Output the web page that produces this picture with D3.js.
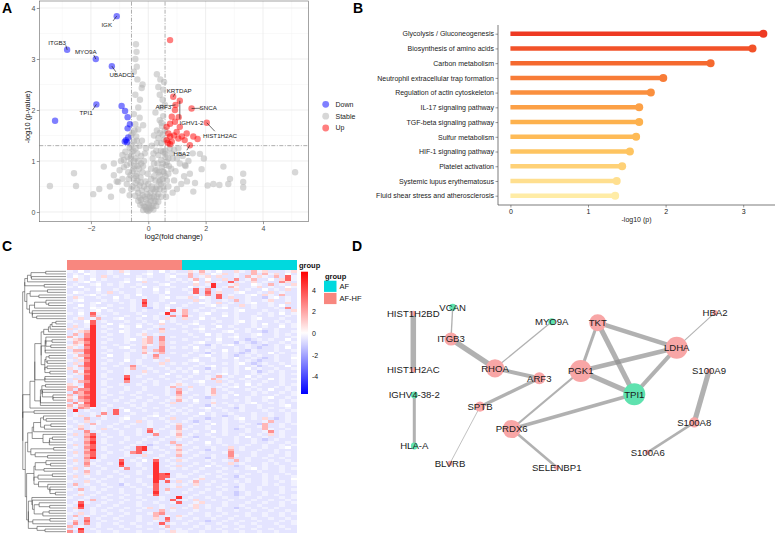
<!DOCTYPE html>
<html><head><meta charset="utf-8">
<script src="https://cdn.jsdelivr.net/npm/d3@7"></script>
<style>body{margin:0;background:#fff}svg{display:block}</style>
</head><body><svg id="c" width="777" height="537"></svg>
<script>
// ---------------- DATA ----------------
// Panel A: volcano points [log2FC, -log10 p]
const stablePts = [
[0,0.02],[0.05,0.05],[-0.05,0.04],[0.1,0.08],[-0.1,0.1],[0.15,0.12],[-0.15,0.11],[0.02,0.15],[-0.02,0.18],[0.2,0.18],[-0.2,0.17],[0.08,0.22],[-0.08,0.25],[0.25,0.22],[-0.25,0.24],[0.12,0.28],[-0.12,0.3],[0.3,0.3],[-0.3,0.28],[0.04,0.09],[-0.07,0.06],[0.18,0.05],[-0.18,0.04],[0.28,0.12],[-0.28,0.14],
[0.35,0.35],[-0.35,0.38],[0.22,0.4],[-0.22,0.42],[0.4,0.45],[-0.4,0.46],[0.3,0.5],[-0.3,0.52],[0.45,0.55],[-0.45,0.57],[0.15,0.45],[-0.15,0.5],[0.38,0.6],[-0.38,0.62],[0.5,0.65],[-0.5,0.66],[0.25,0.62],[-0.27,0.68],[0.55,0.42],[-0.6,0.45],[0.7,0.5],[-0.75,0.55],[0.85,0.38],[-0.9,0.42],[0.62,0.3],[-0.65,0.33],[1.0,0.45],[-1.1,0.6],[0.9,0.62],[0.08,0.38],[-0.05,0.45],
[0.4,0.72],[-0.4,0.75],[0.55,0.78],[-0.55,0.8],[0.3,0.82],[-0.32,0.85],[0.48,0.88],[-0.48,0.9],[0.62,0.92],[-0.62,0.95],[0.7,0.75],[-0.7,0.78],[0.8,0.85],[-0.85,0.88],[0.95,0.8],[-1.0,0.82],[1.1,0.95],[-1.2,0.72],[0.2,0.95],[-0.2,0.78],[1.25,0.7],[-0.95,1.0],[1.3,0.9],
[0.45,1.02],[-0.45,1.05],[0.6,1.08],[-0.6,1.1],[0.35,1.12],[-0.38,1.15],[0.52,1.18],[-0.52,1.2],[0.7,1.05],[-0.72,1.08],[0.8,1.15],[-0.8,1.18],[0.9,1.22],[-0.9,1.12],[1.0,1.05],[1.05,1.25],[0.75,1.25],[-0.65,1.26],[0.28,1.2],[-0.25,1.1],[1.2,1.1],[1.4,1.0],[1.55,1.15],[0.65,0.98],
[0.45,1.35],[-0.5,1.38],[0.35,1.45],[-0.42,1.48],[0.5,1.52],[-0.55,1.55],[0.3,1.6],[-0.35,1.62],[0.48,1.68],[-0.45,1.72],[0.4,1.8],[-0.3,1.85],[0.52,1.88],[-0.5,1.92],[0.2,1.5],[-0.18,1.7],[0.25,1.95],[-0.22,1.4],[0.55,1.42],[-0.58,1.32],
[0.45,2.05],[-0.35,2.05],[0.5,2.2],[-0.29,2.2],[0.4,2.3],[-0.45,2.3],[-0.23,2.43],[0.35,2.45],[0.55,2.55],[-0.38,2.6],[-0.5,2.75],[-0.4,2.85],[-0.45,3.0],[-0.41,3.14],[-0.43,3.29],[0.3,2.7],[-0.2,2.5],
[0.05,0.3],[-0.03,0.35],[0.12,0.5],[-0.1,0.6],[0.2,0.7],[-0.18,0.9],[0.1,0.85],[0.0,0.55],[0.32,0.95],[-0.35,1.0],[0.15,1.05],[-0.12,1.15],[0.42,0.62],[-0.42,0.7],[0.5,0.95],[-0.5,1.0],[0.58,1.15],[-0.58,1.18],[0.6,0.7],[-0.62,0.72],[0.52,0.5],[-0.55,0.5],[0.35,0.2],[-0.35,0.22],[0.45,0.3],[-0.45,0.32],[0.2,0.3],[-0.2,0.33],[0.28,0.45],[-0.26,0.58],[0.36,0.78],[-0.38,0.9],[0.44,1.2],[-0.44,1.25],[0.3,1.35],[-0.3,1.3],[0.4,1.55],[-0.48,1.6],[0.58,1.6],[-0.6,1.5],[0.46,1.75],[-0.4,1.4],[0.12,1.3],[-0.08,1.25],[0.65,0.62],[-0.68,0.65],[0.72,0.9],[-0.75,0.92],[0.85,1.05],[-0.85,1.02],[0.6,1.2],[-0.62,1.05],[0.1,0.65],[-0.02,0.75],[0.25,0.82],[-0.25,0.95],[0.18,1.15],[-0.15,1.0],[0.5,0.8],[-0.52,0.85],[0.58,2.1],[0.52,2.4],[0.42,2.6],
[5.12,0.78],[3.31,0.75],[3.31,0.59],[3.31,0.48],[2.85,0.65],[2.79,0.55],[2.62,0.89],[2.48,0.53],[2.27,0.55],[2.07,0.52],[1.63,0.57],[1.57,0.40],[1.86,0.84],[1.80,1.14],[1.94,1.05],[1.28,0.92],[1.45,0.75],[1.15,0.55],[1.35,0.6],
[-3.43,0.51],[-2.59,0.76],[-2.52,0.51],[-1.92,0.35],[-1.55,0.89],[-1.71,0.45],[-1.34,0.50],[-1.05,0.59],[-1.2,0.95],[-0.9,0.65],[-1.3,0.3]
];
const downPts = [[-1.10,3.84],[-2.83,3.18],[-1.83,3.0],[-1.27,2.86],[-1.81,2.11],[-3.25,1.79],[-0.93,2.08],[-0.81,1.98],[-0.72,1.86],[-0.64,1.72],[-0.72,1.64],[-0.70,1.46],[-0.78,1.41],[-0.74,1.37],[-0.82,1.38]];
const upPts = [[0.76,3.37],[0.87,2.26],[0.95,2.10],[1.10,2.18],[1.51,2.03],[2.04,1.75],[1.45,1.31],[0.93,2.0],[0.82,1.87],[1.06,1.86],[0.64,1.67],[0.76,1.73],[0.70,1.54],[0.76,1.48],[0.64,1.41],[0.76,1.33],[0.82,1.38],[0.99,1.57],[1.10,1.67],[0.93,1.77],[1.17,1.48],[1.05,1.44],[1.34,1.54],[1.27,1.41],[1.57,1.48],[1.72,1.43],[0.68,1.36],[0.9,1.5]];
const labeledGenes = [
 {gene:"IGK", x:-1.10, y:3.84}, {gene:"ITGB3", x:-2.83, y:3.18}, {gene:"MYO9A", x:-1.83, y:3.0},
 {gene:"UBADC1", x:-1.27, y:2.86}, {gene:"TPI1", x:-1.81, y:2.11}, {gene:"KRTDAP", x:0.87, y:2.26},
 {gene:"ARF3", x:0.95, y:2.10}, {gene:"IGHV1-2", x:1.10, y:2.18}, {gene:"SNCA", x:1.51, y:2.03},
 {gene:"HIST1H2AC", x:2.04, y:1.75}, {gene:"HBA2", x:1.45, y:1.31}
];
const volcanoLegend = ["Down","Stable","Up"];
const xTicksA = [-2,0,2,4];
const yTicksA = [0,1,2,3,4];
const fcCut = 0.585, pCut = 1.301;

// Panel B: KEGG enrichment
const pathways = ["Glycolysis / Gluconeogenesis","Biosynthesis of amino acids","Carbon metabolism","Neutrophil extracellular trap formation","Regulation of actin cytoskeleton","IL-17 signaling pathway","TGF-beta signaling pathway","Sulfur metabolism","HIF-1 signaling pathway","Platelet activation","Systemic lupus erythematosus","Fluid shear stress and atherosclerosis"];
const pathwayScore = [3.26,3.12,2.58,1.97,1.81,1.66,1.66,1.62,1.54,1.44,1.37,1.35];
const xTicksB = [0,1,2,3];

// Panel C: heatmap (rows = proteins, 20 AF-HF samples | 20 AF samples), coded levels
const levelCode = {'=':-2,'-':-1.1,'.':-0.6,'_':-0.3,'0':0,'1':0.8,'2':1.6,'3':2.5,'4':3.5,'5':4.6};
const sampleGroup = [...Array(20).fill("AF-HF"), ...Array(20).fill("AF")];
const heatRows = [
"_.0._ .._.1 _..._ .0._.|.1_2_ .0..1 _.2_1 ..._1",
"._.0_ .._.. 0.._0 .._._|_2.1. 0_1._ ..2.2 _1.0.",
".0_._ .1._. .._._ .._0.|.2._1 .1.._ .2_1_ .2.4_",
"_1_.0 ._... _.0_. .._._|._2.0 ..1.3 ._2.. 0.14_",
".._0. _..._ 0..1. _.._.|_.0.1 ._.4. _.1._ ..31.",
"._.._ 0._._ .._.. ._0..|..1._ 5.._1 ..0_. 2._.1",
"_.0.. _..._ ._.0. _.._.|.0._. 5._2_ .._1. _..0_",
"..._. 0.._. .._.. 0._..|_.4.3 ._..1 ._..0 ._.1.",
".0_.. _.1._ .._.. _.0..|._4.4 .1.._ 0.._. 1._..",
"_.._0 ._... _.0.. ._...|.._.3 .4._. ._0.1 _.2..",
".1_.. _..0. _.._. ._0._|_1.0_ .4.1. ._..- _0._.",
"._0.. ._._. ._.4. ._...|..1._ .._.2 ._.._ 1.._.",
"_..._ 0..._ ._.5. _..0.|._.0_ .1._. ._0.. _..1.",
"..0._ .._.. ._.4. _._..|_..._ 0._.. 1._.. _.0..",
"._..0 _0.._ ._..- _.0._|..._. ._0._ .._.. ._.3.",
".._._ 0._.. ._._. .._4_|2._.. _..._ 0..._ .._.1",
"_.0.4 _.._. .._.. ._5._|2.._0 .._._ ..._. _.0._",
".._.3 ._... _..0. _..3.|3_._. ..0._ .._.. _.._.",
"._1._ 2.._0 .._.. _.1_.|1..0. _..._ .._0. .._..",
"_..04 ._... _.._. .0._.|.._.. ._.._ 0._.. ._._.",
"._._4 ..0._ .._._ .1.._|._0.. _..._ .._.0 .._._",
".1._5 ._..0 _.0.. _....|_.._. .0._. .._._ ..0._",
"1._.5 .._.. _..._ .2._.|.._0. _..._ ._.0. ._...",
"._125 ._..0 _.._. .1...|_.._. .._0. ._..- ._.._",
".2.35 .._.. _._1. _....|._..0 ._.._ .._0. ._._.",
"2_.35 ._... _.._2 .3._.|.._.. ._._0 .._.. ._.._",
"_1245 .._.. _0.12 .3...|_..._ .0.._ .-._. _..0.",
".2135 ._... _..12 .2._.|.._0. ._..- _.-._ .._._",
"_1_45 ..._. ._.1_ .2...|._..- _._0. ._..- ._._.",
"1_.35 ._.._ 0..2. .3._.|_.0.. _..._ ._.-. ._.0.",
".2245 .._.. ._.1. 23...|.._._ ..0._ .-_.. ._.._",
"_1.45 ._... _..2_ .2._.|._..- _._.. -._.. 0._..",
"._235 ..0.. _.._. 3....|_.._0 .._.- ._._. ._.._",
".1_45 ._... _.._. 2._..|.._.. _._.0 .._.- ._..0",
"_.135 .._.. 0._.. _.1..|._0.. _..._ ._.-. ._.._",
".1.45 ._.._ .._.. .1._.|_.._. .._._ 0.-._ .._._",
"._245 ..._. .3._. ._...|.._._ 0..._ .._-. _..0.",
"1_.35 ._... _2.._ .._._|._..- _._._ .0._. ._.._",
".2_45 .._.. _..1. _.._.|_.0._ .._._ .._-. _._..",
"._135 ._... _.._. ..0..|.._.. ._0._ .._._ .._._",
"_..45 ._... 4._.. ._.._|._.._ .2._. .0._. .._..",
".1.45 .._.. 5..._ .._..|_..._ 2._.. _._.. 0._._",
"._235 ._... 3.._. _..._|.._0. .1._. ._.._ .._..",
"1_.45 ._.._ .._.. _.._1|_.._. .._._ .0._. .._._",
"22_45 .._.. _.._. .._2.|.1.._ ._._0 .._.. ._._.",
"2.335 ._... _.._. .._.2|._.._ 2._.. ._._. 0.._.",
".3245 ._.._ .._.. .._.3|_..._ 2.._. .._._ .._._",
"2.235 .._.. ._.._ .._.2|.._._ 1._.0 .._.. ._.._",
"1_345 ._.._ .._.. _.._1|._..- .._.. ._.._ 0.._.",
"2.235 ..._. ._.._ .._.2|_.0.. _..._ ._.._ .._._",
".3_45 ._... _.._. ._.1.|.._.. 1._.. ._0.. _._..",
"2_235 .._.. ._._. .._..|._..- _.._. _.._. .._0.",
"1.32_ ._.._ .._.. _.._.|_.._0 ._..- _.._. _.._.",
".5._. ._.4. 0.._. .._._|._.._ .._.. _..._ .._._",
"._.._ .3.4. ._... _.._.|_..0. _.._. .._.. _.._.",
"._1._ 2_... _..._ 0._..|.._.. _.-._ .._.. _.._.",
"_..2. ._.._ 0.._. ._.1.|._..- .._._ 0._.1 .-._.",
"._.1. _..._ ..1._ .._..|_.-._ .._.. _..._ 2.._.",
".._.2 _.._. ._.._ ..._1|.._.. 0._.. ._.-2 .._._",
"_.1._ .._.. _..._ .._.2|._.._ .._.. _.._2 .._..",
"._2._ .1._. .._.3 ._..2|_..._ .._.- ._..2 _.._.",
"_..3. _..._ .._.4 _.._1|.._.. 0._.. ._.._ 3._..",
".1.24 ._.._ .._.. 3.._2|._.._ .._.. _.._. 1._..",
"_..35 .._.. _..._ .._.1|_.-.. _..._ .0.._ .._._",
"._.24 ._... _.._. ._.._|.._.. ._.._ .._.- ._...",
"_..35 ._.._ .._.. _..2.|._..0 ._.._ .._.. _.._.",
".1.24 .._.. ._..- .._.2|_..._ .._.. ._.._ .._._",
"._.34 ._... _.45. _.._1|.._.. _..1. _..._ .._0.",
"_..25 ._.._ ..45. ._..2|._..- _..2. _.._. ._...",
".1.34 .._.. _34._ .._.1|_.._. .._3. .._.. ._._.",
"._.24 ._... _..1. ._..2|.._.. _..3_ .._.. _.._.",
"_..35 ._.._ .._.. _.._.|._..- _..2. ._.._ .._..",
".1.2. _...4 ._.0. 4._.1|_..._ .._.2 ._... _.._.",
"._.3_ .._.5 .._.. 5.._.|.._.. _..1. _..._ ._.._",
"_..2. _...4 .._.. 5._.1|._..0 ._..- ._.._ .._..",
".1._. ._.._ 3.._. 5.._.|_.._. .._.. ._0._ .._._",
"._.2. _.._. .._.. 5....|.._.. ._.._ ..._. .._..",
"_..1. _..._ .._.. 545._|._.._ .._.. ._.._ ..._.",
".1._. .._.. _..._ 544._|_.._. ._..- _..._ ._.._",
"._.._ ._.._ .._.. 54._.|.._1. .._.. ._.._ ._..0",
"_..1. _..._ .._.. 5.4.1|._2.. _..._ ._.._ .._._",
".2._. ._..- _.._. 4.._.|_.1._ .._.. _..._ ._.._",
"._.._ .._.. ._.._ 4.._1|.._.. ._..- _.._. .._..",
"_.2._ ._.._ .._.. 4.2..|._.._ .._.. _.._. .._._",
".._.. _..._ .._.. 5._..|_.._. ._..- ._.._ .._..",
"._1._ .._.. _..._ 4....|.._.. ._..- ._.._ ._.._",
"_.._. ._.._ .._.. ._..5|._.._ .._.. _.._. .._._",
".._.2 .._.. _.._. ._.4.|_.1.. _.._. .._.. _.._.",
"._4_. ._.._ .._.. _.._4|.._1. .._.. ._.._ .._._",
"_.5.. _.._. .._.. ._...|._1._ .._.. _.._. .._..",
".14._ .._.. _.._1 ._.1.|_.1._ ._..- ._.._ ._...",
"._.._ ._.._ .._.. .2._.|.._.. ._.._ .._.. _.._.",
"_.1._ .._.. _..._ 23...|._.._ .._.. ._.._ .._._",
".2._. ._.._ .._.. 2._.1|_..._ ._.._ ._.._ .._..",
"._.3. _.._. .._.. 1.4._|.._.. _.._. .._.. _.._.",
"_2.4. ._.._ .._.. _.3..|._..- .._.. _.._. .._._",
".3.3. _.._. ._.._ .4._.|_.._. ._.._ .._.. ._.._",
"2._.. _..._ .._.. ._2..|.._._ .._.. _.._. .._..",
"._5._ .._.. _..._ .._._|._.._ ._.._ .._.. _.._.",
"3.4.. _.._. .._.. ._.1_|_.._. .._.. _.._. ._..."
];
const colorbarTicks = [4,2,0,-2,-4];
const groupNames = ["AF","AF-HF"];

// Panel D: PPI network
const ppiNodes = [
 {id:"HIST1H2BD",reg:"up",deg:1},{id:"HIST1H2AC",reg:"up",deg:1},{id:"IGHV4-38-2",reg:"down",deg:1.4},
 {id:"HLA-A",reg:"down",deg:1.4},{id:"VCAN",reg:"down",deg:1.4},{id:"ITGB3",reg:"up",deg:2.9},
 {id:"MYO9A",reg:"down",deg:1.4},{id:"RHOA",reg:"up",deg:4.1},{id:"ARF3",reg:"up",deg:2.6},
 {id:"SPTB",reg:"up",deg:2.2},{id:"PRDX6",reg:"up",deg:4.1},{id:"BLVRB",reg:"up",deg:1},
 {id:"SELENBP1",reg:"up",deg:1},{id:"TKT",reg:"up",deg:3.8},{id:"LDHA",reg:"up",deg:5},
 {id:"PGK1",reg:"up",deg:5},{id:"TPI1",reg:"down",deg:5},{id:"HBA2",reg:"up",deg:1},
 {id:"S100A9",reg:"up",deg:1},{id:"S100A8",reg:"up",deg:2.2},{id:"S100A6",reg:"up",deg:1}
];
const ppiEdges = [
 ["HIST1H2BD","HIST1H2AC",0.99],["IGHV4-38-2","HLA-A",0.68],["VCAN","ITGB3",0.47],["ITGB3","RHOA",0.96],
 ["RHOA","MYO9A",0.45],["RHOA","ARF3",0.8],["ARF3","SPTB",0.72],["SPTB","BLVRB",0.4],
 ["PGK1","PRDX6",0.58],["PRDX6","TPI1",0.745],["PRDX6","SELENBP1",0.62],["PGK1","TKT",0.68],
 ["PGK1","LDHA",0.87],["PGK1","TPI1",0.94],["TKT","LDHA",0.87],["TKT","TPI1",0.94],
 ["LDHA","TPI1",0.8],["LDHA","HBA2",0.43],["S100A9","S100A8",0.94],["S100A8","S100A6",0.62]
];
// network layout (pixel positions from the layout engine)
const ppiLayout = {
 "HIST1H2BD":[413.3,313.3],"HIST1H2AC":[413.3,370],"IGHV4-38-2":[414.3,395],"HLA-A":[414.3,446],
 "VCAN":[452.7,307.3],"ITGB3":[451,339],"MYO9A":[551.7,321.7],"RHOA":[495,368.3],"ARF3":[539.3,378.3],
 "SPTB":[480,406.7],"PRDX6":[511.7,429],"BLVRB":[450,463.3],"SELENBP1":[556.7,467.3],"TKT":[597.7,322.7],
 "LDHA":[676.7,347.7],"PGK1":[580.7,371],"TPI1":[634.3,394.3],"HBA2":[715,312.7],"S100A9":[709,371],
 "S100A8":[694.3,422.3],"S100A6":[647.7,452.3]
};

// ---------------- DRAW ----------------
const FONT = '"Liberation Sans", Arial, Helvetica, sans-serif';
const svg = d3.select("#c").attr("font-family", FONT);
svg.append("rect").attr("width",777).attr("height",537).attr("fill","#fff");
const fmtInt = d3.format("d");

// ===== Panel A =====
(function(){
 const g = svg.append("g");
 const x = d3.scaleLinear().domain([-3.8,5.58]).range([39.3,308.3]);
 const y = d3.scaleLinear().domain([-0.19,4.137]).range([221.7,1]);
 const [x0,x1] = x.range(), [y0,y1] = y.range();
 const minorX=[-3,-1,1,3,5], minorY=[0.5,1.5,2.5,3.5];
 g.selectAll(".mx").data(minorX).join("line").attr("x1",d=>x(d)).attr("x2",d=>x(d)).attr("y1",y0).attr("y2",y1).attr("stroke","#f2f2f2").attr("stroke-width",0.5);
 g.selectAll(".my").data(minorY).join("line").attr("y1",d=>y(d)).attr("y2",d=>y(d)).attr("x1",x0).attr("x2",x1).attr("stroke","#f2f2f2").attr("stroke-width",0.5);
 g.selectAll(".gx").data(xTicksA).join("line").attr("x1",d=>x(d)).attr("x2",d=>x(d)).attr("y1",y0).attr("y2",y1).attr("stroke","#e6e6e6").attr("stroke-width",0.7);
 g.selectAll(".gy").data(yTicksA).join("line").attr("y1",d=>y(d)).attr("y2",d=>y(d)).attr("x1",x0).attr("x2",x1).attr("stroke","#e6e6e6").attr("stroke-width",0.7);
 const dash="4,1.5,1,1.5";
 [-fcCut,fcCut].forEach(v=>g.append("line").attr("x1",x(v)).attr("x2",x(v)).attr("y1",y0).attr("y2",y1).attr("stroke","#999").attr("stroke-width",0.8).attr("stroke-dasharray",dash));
 g.append("line").attr("x1",x0).attr("x2",x1).attr("y1",y(pCut)).attr("y2",y(pCut)).attr("stroke","#999").attr("stroke-width",0.8).attr("stroke-dasharray",dash);
 const r=3.2;
 g.append("g").selectAll("circle").data(stablePts).join("circle").attr("cx",d=>x(d[0])).attr("cy",d=>y(d[1])).attr("r",r).attr("fill","#b0b0b0").attr("fill-opacity",0.5);
 g.append("g").selectAll("circle").data(downPts).join("circle").attr("cx",d=>x(d[0])).attr("cy",d=>y(d[1])).attr("r",r).attr("fill","#0000ff").attr("fill-opacity",0.5);
 g.append("g").selectAll("circle").data(upPts).join("circle").attr("cx",d=>x(d[0])).attr("cy",d=>y(d[1])).attr("r",r).attr("fill","#ff0000").attr("fill-opacity",0.5);
 const repel = {
  "IGK":[-10,8.6,-3.7,4.8],"ITGB3":[-10,-7.3,-1.3,-4.5],"MYO9A":[-10,-7.3,-2,-4],
  "UBADC1":[10.3,8.7,4,5.7],"TPI1":[-10.3,8.4,-3.8,5.7],"KRTDAP":[6,-6,2,-3.5],
  "ARF3":[-12.2,2.5,-5,0.8],"IGHV1-2":[11.7,21.7,0,18],"SNCA":[16.6,-0.2,9,-0.2],
  "HIST1H2AC":[13.3,13.3,8,8.5],"HBA2":[-8.3,8.7,-3,5]};
 labeledGenes.forEach(d=>{
  const o=repel[d.gene], px=x(d.x), py=y(d.y);
  g.append("line").attr("x1",px).attr("y1",py).attr("x2",px+o[2]).attr("y2",py+o[3]).attr("stroke","#111").attr("stroke-width",0.6);
  g.append("text").attr("x",px+o[0]).attr("y",py+o[1]+2.1).attr("text-anchor","middle").attr("font-size",6.2).attr("fill","#222").text(d.gene);
 });
 g.append("rect").attr("x",x0).attr("y",y1).attr("width",x1-x0).attr("height",y0-y1).attr("fill","none").attr("stroke","#666").attr("stroke-width",0.6);
 const ax = g.append("g").attr("transform",`translate(0,${y0})`).call(d3.axisBottom(x).tickValues(xTicksA).tickFormat(fmtInt).tickSize(2.5).tickPadding(1.5));
 const ay = g.append("g").attr("transform",`translate(${x0},0)`).call(d3.axisLeft(y).tickValues(yTicksA).tickFormat(fmtInt).tickSize(2.5).tickPadding(1.5));
 [ax,ay].forEach(a=>{a.select(".domain").remove();a.selectAll("line").attr("stroke","#333").attr("stroke-width",0.5);a.selectAll("text").attr("font-size",7).attr("fill","#4d4d4d").attr("font-family",FONT);});
 g.append("text").attr("x",(x0+x1)/2).attr("y",239).attr("text-anchor","middle").attr("font-size",7.5).attr("fill","#111").text("log2(fold change)");
 g.append("text").attr("transform","translate(29.5,117) rotate(-90)").attr("text-anchor","middle").attr("font-size",7.5).attr("fill","#111").text("-log10 (p-value)");
 const legCol = {"Down":"#0000ff","Stable":"#b0b0b0","Up":"#ff0000"};
 const ly = d3.scalePoint().domain(volcanoLegend).range([104.3,128]);
 volcanoLegend.forEach(k=>{
  g.append("circle").attr("cx",325.7).attr("cy",ly(k)).attr("r",3.4).attr("fill",legCol[k]).attr("fill-opacity",0.5);
  g.append("text").attr("x",335.5).attr("y",ly(k)+2.4).attr("font-size",7).attr("fill","#222").text(k);
 });
})();

// ===== Panel B =====
(function(){
 const g = svg.append("g");
 const x = d3.scaleLinear().domain([-0.16,3.41]).range([498,775]);
 const y = d3.scalePoint().domain(pathways).range([33.7,195.7]);
 const col = d3.scaleLinear().domain([0,2,4,6,8,11]).range(["#ee3a23","#f5692f","#fa8f3e","#fdb14d","#fec460","#ffeca6"]);
 g.selectAll("line.seg").data(pathways).join("line").attr("x1",x(0)).attr("x2",(d,i)=>x(pathwayScore[i])).attr("y1",d=>y(d)).attr("y2",d=>y(d)).attr("stroke",(d,i)=>col(i)).attr("stroke-width",4.5);
 g.selectAll("circle").data(pathways).join("circle").attr("cx",(d,i)=>x(pathwayScore[i])).attr("cy",d=>y(d)).attr("r",4).attr("fill",(d,i)=>col(i));
 const ay = g.append("g").attr("transform","translate(498,0)").call(d3.axisLeft(y).tickSize(2.5).tickPadding(1.5));
 const ax = g.append("g").attr("transform","translate(0,205)").call(d3.axisBottom(x).tickValues(xTicksB).tickFormat(fmtInt).tickSize(2.5).tickPadding(1.5));
 [ax,ay].forEach(a=>{a.select(".domain").remove();a.selectAll("line").attr("stroke","#333").attr("stroke-width",0.5);a.selectAll("text").attr("font-size",7).attr("fill","#222").attr("font-family",FONT);});
 g.append("line").attr("x1",498).attr("x2",498).attr("y1",25).attr("y2",205).attr("stroke","#444").attr("stroke-width",0.7);
 g.append("line").attr("x1",498).attr("x2",775).attr("y1",205).attr("y2",205).attr("stroke","#444").attr("stroke-width",0.7);
 g.append("text").attr("x",636.5).attr("y",221.5).attr("text-anchor","middle").attr("font-size",7).attr("fill","#222").text("-log10 (p)");
})();

// ===== Panel C =====
(function(){
 const g = svg.append("g");
 const mat = heatRows.map(s=>s.split("|").map(p=>p.replace(/\s/g,"").padEnd(20,".").slice(0,20)).join("").split("").map(c=>levelCode[c]));
 const nR = mat.length, nC = sampleGroup.length;
 const x = d3.scaleBand().domain(d3.range(nC)).range([67,296.7]);
 const y = d3.scaleBand().domain(d3.range(nR)).range([270,533]);
 const color = d3.scaleLinear().domain([-5.6,0,5.7]).range(["#0000ff","#ffffff","#ff0000"]).clamp(true);
 const grpCol = {"AF":"#00d9de","AF-HF":"#f8877f"};
 g.selectAll("rect.ann").data(sampleGroup).join("rect").attr("x",(d,i)=>x(i)).attr("y",260).attr("width",x.bandwidth()+0.4).attr("height",9.5).attr("fill",d=>grpCol[d]).attr("shape-rendering","crispEdges");
 const cells=[]; mat.forEach((row,r)=>row.forEach((v,c)=>cells.push({r,c,v})));
 g.append("g").selectAll("rect").data(cells).join("rect").attr("x",d=>x(d.c)).attr("y",d=>y(d.r)).attr("width",x.bandwidth()+0.4).attr("height",y.bandwidth()+0.4).attr("fill",d=>color(d.v)).attr("shape-rendering","crispEdges");
 const D = mat.map(a=>mat.map(b=>Math.sqrt(d3.sum(a,(v,k)=>(v-b[k])**2))));
 let cl = mat.map((row,i)=>({members:[i],h:0,y:y(i)+y.bandwidth()/2}));
 const avg=(a,b)=>{let s=0;for(const i of a.members)for(const j of b.members)s+=D[i][j];return s/(a.members.length*b.members.length);};
 while(cl.length>1){
  let best=Infinity,bi=0;
  for(let k=0;k<cl.length-1;k++){const d=avg(cl[k],cl[k+1]);if(d<best){best=d;bi=k;}}
  const a=cl[bi],b=cl[bi+1];
  cl.splice(bi,2,{members:a.members.concat(b.members),h:Math.max(best,a.h,b.h)+0.01,children:[a,b],y:(a.y+b.y)/2});
 }
 const root = d3.hierarchy(cl[0]);
 const hx = d3.scaleLinear().domain([0,cl[0].h]).range([66,22.7]);
 const p = d3.path();
 root.each(n=>{ if(n.children){ const X=hx(n.data.h); const [c1,c2]=n.children;
   p.moveTo(hx(c1.data.h),c1.data.y); p.lineTo(X,c1.data.y); p.lineTo(X,c2.data.y); p.lineTo(hx(c2.data.h),c2.data.y);} });
 g.append("path").attr("d",p.toString()).attr("fill","none").attr("stroke","#3a3a3a").attr("stroke-width",0.55);
 g.append("text").attr("x",299).attr("y",268).attr("font-size",7.5).attr("font-weight","bold").attr("fill","#111").text("group");
 const defs = svg.append("defs");
 const lg = defs.append("linearGradient").attr("id","cb").attr("x1",0).attr("x2",0).attr("y1",1).attr("y2",0);
 d3.range(0,1.0001,0.1).forEach(t=>lg.append("stop").attr("offset",t).attr("stop-color",color(-5.6+t*11.3)));
 const cy = d3.scaleLinear().domain([-5.6,5.7]).range([394,271.7]);
 g.append("rect").attr("x",301).attr("y",271.7).attr("width",7).attr("height",394-271.7).attr("fill","url(#cb)");
 colorbarTicks.forEach(v=>g.append("text").attr("x",312).attr("y",cy(v)+2.5).attr("font-size",7).attr("fill","#111").text(v));
 g.append("text").attr("x",325).attr("y",278.5).attr("font-size",7.5).attr("font-weight","bold").attr("fill","#111").text("group");
 groupNames.forEach((k,i)=>{
  g.append("rect").attr("x",324).attr("y",280.7+i*12.2).attr("width",12.5).attr("height",11.2).attr("fill",grpCol[k]);
  g.append("text").attr("x",339.5).attr("y",289+i*12.2).attr("font-size",7.5).attr("fill","#111").text(k);
 });
})();

// ===== Panel D =====
(function(){
 const g = svg.append("g");
 const rS = d3.scaleLinear().domain([1,5]).range([2.6,11]);
 const wS = d3.scaleLinear().domain([0.4,1]).range([0.8,5.6]);
 const nodeCol = {"up":"#f8a6a6","down":"#5fe2af"};
 g.selectAll("line").data(ppiEdges).join("line")
  .attr("x1",d=>ppiLayout[d[0]][0]).attr("y1",d=>ppiLayout[d[0]][1]).attr("x2",d=>ppiLayout[d[1]][0]).attr("y2",d=>ppiLayout[d[1]][1])
  .attr("stroke","#8c8c8c").attr("stroke-opacity",0.68).attr("stroke-width",d=>wS(d[2]));
 g.selectAll("circle").data(ppiNodes).join("circle").attr("cx",d=>ppiLayout[d.id][0]).attr("cy",d=>ppiLayout[d.id][1]).attr("r",d=>rS(d.deg)).attr("fill",d=>nodeCol[d.reg]);
 g.selectAll("text").data(ppiNodes).join("text").attr("x",d=>ppiLayout[d.id][0]).attr("y",d=>ppiLayout[d.id][1]+3.4).attr("text-anchor","middle").attr("font-size",9.6).attr("fill","#1a1a1a").text(d=>d.id);
})();

[["A",2,12.5],["B",353,12.5],["C",2,250.5],["D",352,251]].forEach(([t,x,y])=>svg.append("text").attr("x",x).attr("y",y).attr("font-size",14).attr("font-weight","bold").attr("fill","#000").text(t));
</script></body></html>
